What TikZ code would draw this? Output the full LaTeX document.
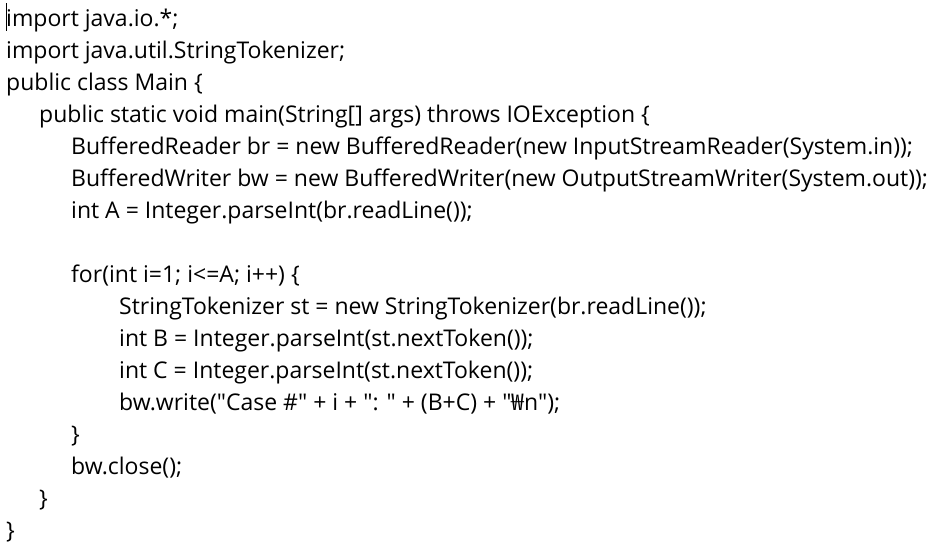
\documentclass[tikz,border=0pt]{standalone}
\usepackage{fontspec}
\setmainfont{Open Sans}[Ligatures=TeXOff]
\newfontfamily\wonfont{Noto Sans CJK KR}
\begin{document}
\begin{tikzpicture}[x=1pt,y=-1pt,
    codeline/.style={anchor=base west, inner sep=0pt, font=\fontsize{23}{27}\selectfont}]
  \useasboundingbox (0,0) rectangle (940,547);
  \draw[line width=0.8pt] (6,3) -- (6,31);
  \node[codeline] (l1) at (6,26) {import java.io.*;};
  \node[codeline] (l2) at (6,58) {import java.util.StringTokenizer;};
  \node[codeline] (l3) at (6,90) {public class Main \{};
  \node[codeline] (l4) at (39,122) {public static void main(String[] args) throws IOException \{};
  \node[codeline] (l5) at (71,154) {BufferedReader br = new BufferedReader(new InputStreamReader(System.in));};
  \node[codeline] (l6) at (71,186) {BufferedWriter bw = new BufferedWriter(new OutputStreamWriter(System.out));};
  \node[codeline] (l7) at (71,218) {int A = Integer.parseInt(br.readLine());};
  \node[codeline] (l9) at (71,282) {for(int i=1; i<=A; i++) \{};
  \node[codeline] (l10) at (119,314) {StringTokenizer st = new StringTokenizer(br.readLine());};
  \node[codeline] (l11) at (119,346) {int B = Integer.parseInt(st.nextToken());};
  \node[codeline] (l12) at (119,378) {int C = Integer.parseInt(st.nextToken());};
  \node[codeline] (l13) at (119,410) {bw.write("Case \#" + i + ": " + (B+C) + "{\wonfont ₩}n");};
  \node[codeline] (l14) at (71,442) {\}};
  \node[codeline] (l15) at (71,474) {bw.close();};
  \node[codeline] (l16) at (39,506) {\}};
  \node[codeline] (l17) at (6,538) {\}};
\end{tikzpicture}
\end{document}
